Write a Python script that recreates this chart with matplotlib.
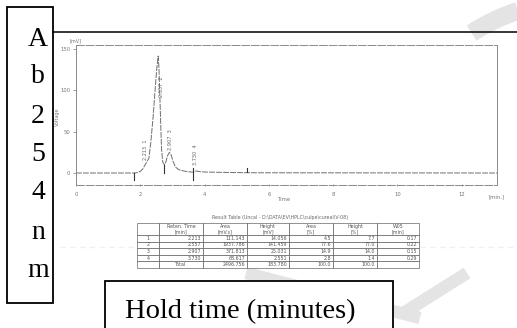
import numpy as np
import matplotlib.pyplot as plt
from matplotlib.patches import Rectangle
from matplotlib.table import Table

# integrator report
peak_no = [1, 2, 3, 4]
ret_time = [2.213, 2.557, 2.907, 3.730]
area = [111.143, 1937.786, 371.813, 68.617]
height = [14.056, 141.459, 25.031, 2.551]
area_pct = [4.5, 77.6, 14.9, 2.8]
height_pct = [7.7, 77.0, 14.0, 1.4]
w05 = [0.17, 0.22, 0.15, 0.29]
total_area = 2496.756
total_height = 183.780
total_area_pct = 100.0
total_height_pct = 100.0

# detector trace between the peak maxima (min, mV)
trace_t = [0.0, 1.81, 1.90, 2.00, 2.08, 2.15, 2.27, 2.33, 2.40, 2.46, 2.51,
           2.58, 2.62, 2.66, 2.70, 2.75, 2.80, 2.85, 2.96, 3.02, 3.10, 3.20,
           3.35, 3.50, 3.65, 3.82, 4.00, 4.50, 5.50, 13.1]
trace_mv = [0.0, 0.0, 0.5, 2.0, 5.0, 10.0, 18.0, 38.0, 68.0, 100.0, 125.0,
            128.0, 80.0, 30.0, 13.0, 10.0, 14.0, 21.0, 22.0, 14.0, 7.0, 4.0,
            2.5, 1.5, 1.0, 1.8, 1.2, 0.8, 0.3, 0.0]

# integration marks: time, lower and upper end (mV)
mark_t = [1.81, 2.75, 3.65, 5.33]
mark_lo = [-8, 0, -8, 1]
mark_hi = [0, 10, 6, 6]

x_ticks = [0, 2, 4, 6, 8, 10, 12]
y_ticks = [0, 50, 100, 150]
side_letters = list("Ab254nm")

W, H = 517, 328
fig = plt.figure(figsize=(W / 100, H / 100), dpi=100)

# full-page layer in pixel units for boxes and page decoration
bg = fig.add_axes([0, 0, 1, 1])
bg.set_xlim(0, W)
bg.set_ylim(H, 0)
bg.axis('off')

# faint background marks of the page
a = np.radians(np.linspace(104, 123, 40))
bg.plot(580 + 199 * np.cos(a), 200 - 199 * np.sin(a), color='#e4e4e4', lw=13,
        solid_capstyle='butt', zorder=0)
bg.plot([246, 420], [273, 318], color='#e4e4e4', lw=9, solid_capstyle='butt', zorder=0)
bg.plot([405, 467], [312, 273], color='#e4e4e4', lw=9, solid_capstyle='butt', zorder=0)
bg.plot([60, 135], [247, 247], color='#f0f0f0', lw=1, ls=(0, (4, 3)), zorder=0)
bg.plot([420, 517], [247, 247], color='#f0f0f0', lw=1, ls=(0, (4, 3)), zorder=0)

bg.plot([53, W], [32, 32], color='black', lw=1.1, zorder=2)
bg.add_patch(Rectangle((7, 7), 46, 296, fill=False, ec='black', lw=1.3, zorder=3))
for ch, yb in zip(side_letters, [46, 83, 123, 161, 199, 239, 277]):
    bg.text(38, yb, ch, family='Liberation Serif', fontsize=20, ha='center',
            va='baseline', zorder=3)

bg.add_patch(Rectangle((105, 281), 288, 60, fc='white', ec='black', lw=1.3,
                       zorder=3, clip_on=False))
bg.text(125, 318, 'Hold time (minutes)', family='Liberation Serif', fontsize=20.5,
        ha='left', va='baseline', zorder=4)

# chromatogram
ax = fig.add_axes([76 / W, 1 - 185 / H, 421 / W, 140 / H])
ax.set_facecolor('none')
t = np.array(trace_t + ret_time)
mv = np.array(trace_mv + height)
order = np.argsort(t)
ax.plot(t[order], mv[order], color='#6e6e6e', lw=0.7, ls=(0, (6, 1.2)))
for xm, lo, hi in zip(mark_t, mark_lo, mark_hi):
    ax.plot([xm, xm], [lo, hi], color='#333333', lw=0.8)

label_dx = [-0.04, 0.09, 0.03, -0.02]
label_y = [16, 92, 28, 10]
for n, rt, dx, yl in zip(peak_no, ret_time, label_dx, label_y):
    ax.text(rt + dx, yl, f'{rt:.3f}  {n}', rotation=90, fontsize=3.6,
            color='#666666', ha='center', va='bottom')

ax.set_xlim(0, 13.1)
ax.set_ylim(-14.5, 154.8)
ax.set_xticks(x_ticks)
ax.set_yticks(y_ticks)
ax.tick_params(axis='both', labelsize=3.8, colors='#777777', length=2, width=0.5, pad=2)
ax.tick_params(axis='x', direction='inout', pad=4)
for side in ['top', 'bottom']:
    ax.spines[side].set_linestyle((0, (8, 2)))
for side in ax.spines:
    ax.spines[side].set_color('#8a8a8a')
    ax.spines[side].set_linewidth(0.7)
ax.text(0, 1.015, '[mV]', transform=ax.transAxes, fontsize=3.5, color='#777777',
        ha='center', va='bottom')
ax.text(-0.045, 0.49, 'Voltage', transform=ax.transAxes, fontsize=3.5, color='#777777',
        rotation=90, ha='center', va='center')
ax.text(0.496, -0.107, 'Time', transform=ax.transAxes, fontsize=3.8, color='#777777',
        ha='center', va='center')
ax.text(0.979, -0.086, '[min.]', transform=ax.transAxes, fontsize=3.8, color='#777777',
        ha='left', va='center')

# result table
fig.text(280 / W, 1 - 218 / H,
         r'Result Table (Uncal - D:\DATA\EV\HPLC\culpe\cureal\V-08)',
         fontsize=3.4, color='#666666', ha='center', va='center')
tax = fig.add_axes([137 / W, 1 - 268 / H, 282 / W, 45 / H])
tax.axis('off')
tbl = Table(tax, bbox=[0, 0, 1, 1])
col_w = [22, 44, 44, 42, 44, 44, 42]
header = ['', 'Reten. Time\n[min]', 'Area\n[mV.s]', 'Height\n[mV]', 'Area\n[%]',
          'Height\n[%]', 'W05\n[min]']
rows = [[str(n), f'{rt:.3f}', f'{ar:.3f}', f'{ht:.3f}', f'{ap:.1f}', f'{hp:.1f}', f'{w:.2f}']
        for n, rt, ar, ht, ap, hp, w in zip(peak_no, ret_time, area, height,
                                             area_pct, height_pct, w05)]
rows.append(['', 'Total', f'{total_area:.3f}', f'{total_height:.3f}',
             f'{total_area_pct:.1f}', f'{total_height_pct:.1f}', ''])
for c, (w, txt) in enumerate(zip(col_w, header)):
    tbl.add_cell(0, c, width=w, height=12, text=txt, loc='center')
for r, row in enumerate(rows, start=1):
    for c, (w, txt) in enumerate(zip(col_w, row)):
        loc = 'center' if c == 0 or txt == 'Total' else 'right'
        tbl.add_cell(r, c, width=w, height=6.6, text=txt, loc=loc)
tbl.auto_set_font_size(False)
tbl.set_fontsize(3.4)
for cell in tbl.get_celld().values():
    cell.set_edgecolor('#555555')
    cell.set_linewidth(0.45)
    cell.get_text().set_color('#555555')
    cell.PAD = 0.04
tax.add_table(tbl)

fig.savefig('out.png', dpi=100)
